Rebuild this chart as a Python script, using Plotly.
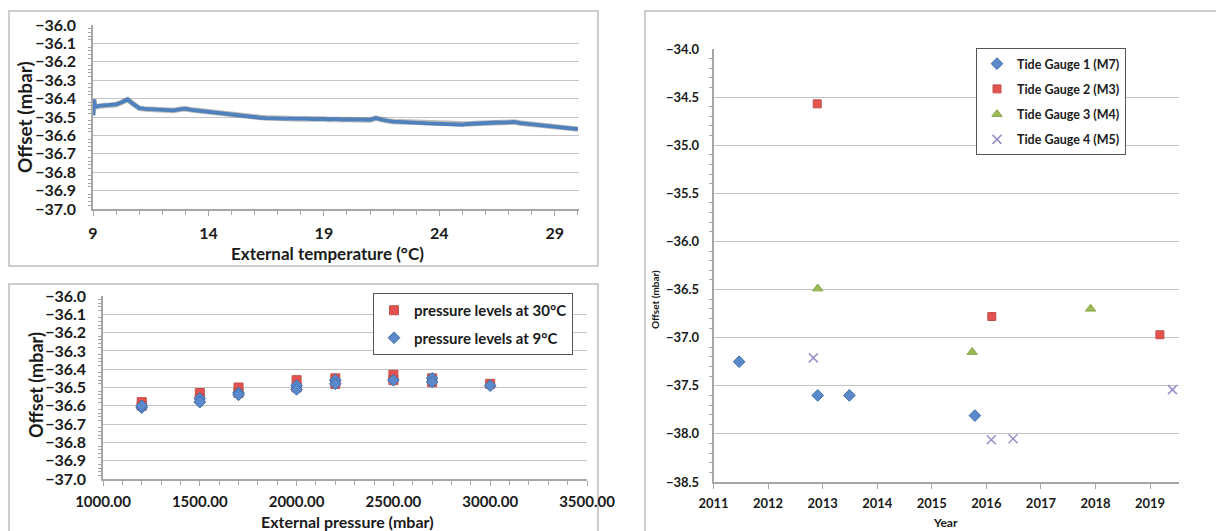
import plotly.graph_objects as go

# ---------------- DATA ----------------
# Panel A: offset vs external temperature
temp_c = [9.00, 9.02, 9.04, 9.06, 9.10, 9.25, 9.50, 9.75, 10.00, 10.25, 10.50, 10.75,
          11.00, 11.25, 11.50, 11.75, 12.00, 12.25, 12.50, 12.75, 13.00, 13.25, 13.50, 13.75,
          14.00, 14.25, 14.50, 14.75, 15.00, 15.25, 15.50, 15.75, 16.00, 16.25, 16.50, 16.75,
          17.00, 17.25, 17.50, 17.75, 18.00, 18.25, 18.50, 18.75, 19.00, 19.25, 19.50, 19.75,
          20.00, 20.25, 20.50, 20.75, 21.00, 21.25, 21.50, 21.75, 22.00, 22.25, 22.50, 22.75,
          23.00, 23.25, 23.50, 23.75, 24.00, 24.25, 24.50, 24.75, 25.00, 25.25, 25.50, 25.75,
          26.00, 26.25, 26.50, 26.75, 27.00, 27.25, 27.50, 27.75, 28.00, 28.25, 28.50, 28.75,
          29.00, 29.25, 29.50, 29.75, 30.00]
temp_offset = [-36.490, -36.470, -36.405, -36.440, -36.445, -36.440, -36.437, -36.436, -36.432, -36.420, -36.405, -36.430,
               -36.452, -36.456, -36.458, -36.457, -36.462, -36.460, -36.464, -36.458, -36.455, -36.461, -36.465, -36.468,
               -36.471, -36.474, -36.480, -36.483, -36.489, -36.491, -36.494, -36.499, -36.502, -36.504, -36.506, -36.505,
               -36.507, -36.509, -36.508, -36.511, -36.511, -36.509, -36.512, -36.510, -36.511, -36.513, -36.510, -36.514,
               -36.513, -36.512, -36.515, -36.514, -36.516, -36.506, -36.515, -36.521, -36.525, -36.526, -36.529, -36.530,
               -36.531, -36.533, -36.535, -36.536, -36.538, -36.540, -36.536, -36.541, -36.542, -36.538, -36.536, -36.534,
               -36.531, -36.532, -36.530, -36.531, -36.529, -36.527, -36.533, -36.536, -36.538, -36.541, -36.545, -36.548,
               -36.552, -36.556, -36.558, -36.561, -36.566]

# Panel B: offset vs external pressure
p30_pressure = [1200, 1200, 1500, 1500, 1700, 1700, 2000, 2000, 2200, 2200, 2500, 2500, 2700, 2700, 3000]
p30_offset = [-36.58, -36.60, -36.53, -36.56, -36.50, -36.53, -36.46, -36.50, -36.45, -36.48, -36.43, -36.46, -36.45, -36.47, -36.48]
p9_pressure = [1200, 1200, 1500, 1500, 1700, 1700, 2000, 2000, 2200, 2200, 2500, 2700, 2700, 3000]
p9_offset = [-36.61, -36.60, -36.56, -36.58, -36.53, -36.54, -36.49, -36.51, -36.46, -36.48, -36.46, -36.45, -36.47, -36.49]

# Panel C: offset per year and tide gauge
tg1_year = [2011.47, 2012.91, 2013.49, 2015.79]
tg1_offset = [-37.25, -37.60, -37.60, -37.81]
tg2_year = [2012.90, 2016.10, 2019.18]
tg2_offset = [-34.57, -36.78, -36.97]
tg3_year = [2012.91, 2015.74, 2017.91]
tg3_offset = [-36.49, -37.15, -36.70]
tg4_year = [2012.83, 2016.09, 2016.49, 2019.41]
tg4_offset = [-37.21, -38.06, -38.05, -37.54]

# ---------------- LAYOUT HELPERS ----------------
W, H = 1216, 531
def px(x):
    return x / W
def py(y):
    return 1 - y / H

FONT = "Lato"
GRID = "#C4C4C4"
AXIS = "#A6A6A6"
TXT = "#1A1A1A"

fig = go.Figure()

# Panel A line (shadow + line)
fig.add_trace(go.Scatter(x=temp_c, y=temp_offset, mode="lines", xaxis="x", yaxis="y",
                         line=dict(color="rgba(60,60,60,0.35)", width=5.5), showlegend=False, hoverinfo="skip"))
fig.add_trace(go.Scatter(x=temp_c, y=temp_offset, mode="lines", xaxis="x", yaxis="y",
                         line=dict(color="#4F81BD", width=3.8), showlegend=False))

# Panel B
fig.add_trace(go.Scatter(x=p30_pressure, y=p30_offset, mode="markers", xaxis="x2", yaxis="y2",
                         name="pressure levels at 30°C", legend="legend", legendgroup="a",
                         marker=dict(symbol="square", size=9, color="#E4524F",
                                     line=dict(color="#C0504D", width=1))))
fig.add_trace(go.Scatter(x=p9_pressure, y=p9_offset, mode="markers", xaxis="x2", yaxis="y2",
                         name="pressure levels at 9°C", legend="legend", legendgroup="b",
                         marker=dict(symbol="diamond", size=9, color="#5A8ACB",
                                     line=dict(color="#3E6DAA", width=1))))

# Panel C
fig.add_trace(go.Scatter(x=tg1_year, y=tg1_offset, mode="markers", xaxis="x3", yaxis="y3",
                         name="Tide Gauge 1 (M7)", legend="legend2", legendgroup="c1",
                         marker=dict(symbol="diamond", size=9, color="#5A8ACB",
                                     line=dict(color="#3E6DAA", width=1))))
fig.add_trace(go.Scatter(x=tg2_year, y=tg2_offset, mode="markers", xaxis="x3", yaxis="y3",
                         name="Tide Gauge 2 (M3)", legend="legend2", legendgroup="c2",
                         marker=dict(symbol="square", size=8, color="#E4524F",
                                     line=dict(color="#C0504D", width=1))))
fig.add_trace(go.Scatter(x=tg3_year, y=tg3_offset, mode="markers", xaxis="x3", yaxis="y3",
                         name="Tide Gauge 3 (M4)", legend="legend2", legendgroup="c3",
                         marker=dict(symbol="triangle-up", size=9, color="#9BBB59",
                                     line=dict(color="#86A544", width=1))))
fig.add_trace(go.Scatter(x=tg4_year, y=tg4_offset, mode="markers", xaxis="x3", yaxis="y3",
                         name="Tide Gauge 4 (M5)", legend="legend2", legendgroup="c4",
                         marker=dict(symbol="x-thin", size=9, color="#9C8EC8",
                                     line=dict(color="#9C8EC8", width=1.5))))

def yaxis_common(size):
    return dict(showgrid=True, gridcolor=GRID, gridwidth=1.3, zeroline=False,
                showline=True, linecolor=AXIS, linewidth=1.5, automargin=False,
                tickfont=dict(family=FONT, size=size, color=TXT, weight="bold"),
                ticks="", fixedrange=True)

def xaxis_common(size):
    return dict(showgrid=False, zeroline=False, showline=True, linecolor=AXIS, linewidth=1.5,
                automargin=False,
                tickfont=dict(family=FONT, size=size, color=TXT, weight="bold"),
                ticks="outside", ticklen=5, tickcolor=AXIS, tickwidth=1.2, fixedrange=True)

xa = xaxis_common(16)
xa.update(domain=[px(93), px(579)], anchor="y", range=[9, 30.05], tick0=9, dtick=5,
          minor=dict(ticks="outside", ticklen=4, dtick=1, tickcolor=AXIS, showgrid=False),
          ticklabelstandoff=4)
ya = yaxis_common(16)
ya.update(domain=[py(209), py(25)], anchor="x", range=[-37.0, -36.0], dtick=0.1, tickformat=".1f",
          minor=dict(ticks="outside", ticklen=3, dtick=0.02, tickcolor=AXIS, showgrid=False),
          ticklabelstandoff=12)

xb = xaxis_common(15)
xb.update(domain=[px(103), px(587)], anchor="y2", range=[1000, 3500], dtick=500, tickformat=".2f",
          minor=dict(ticks="outside", ticklen=4, dtick=100, tickcolor=AXIS, showgrid=False),
          ticklabelstandoff=3)
yb = yaxis_common(16)
yb.update(domain=[py(479), py(296)], anchor="x2", range=[-37.0, -36.0], dtick=0.1, tickformat=".1f",
          minor=dict(ticks="outside", ticklen=3, dtick=0.02, tickcolor=AXIS, showgrid=False),
          ticklabelstandoff=12)

xc = xaxis_common(13)
xc.update(domain=[px(713.5), px(1179)], anchor="y3", range=[2011, 2019.53], dtick=1, tick0=2011,
          tickformat="d", ticklabelstandoff=4)
yc = yaxis_common(13)
yc.update(domain=[py(482), py(49)], anchor="x3", range=[-38.5, -34.0], dtick=0.5, tickformat=".1f",
          minor=dict(ticks="outside", ticklen=3, dtick=0.1, tickcolor=AXIS, showgrid=False),
          ticklabelstandoff=10)

def box(x0, y0, x1, y1):
    return dict(type="rect", xref="paper", yref="paper", x0=px(x0), y0=py(y1), x1=px(x1), y1=py(y0),
                line=dict(color="#BDBDBD", width=1.5), fillcolor="rgba(0,0,0,0)", layer="below")

def title_ann(text, x, y, size, angle=0):
    return dict(text=text, x=px(x), y=py(y), xref="paper", yref="paper", showarrow=False,
                textangle=angle, xanchor="center", yanchor="middle",
                font=dict(family=FONT, size=size, color=TXT, weight="bold"))

fig.update_layout(
    width=W, height=H, margin=dict(l=0, r=0, t=0, b=0, pad=0, autoexpand=False),
    paper_bgcolor="white", plot_bgcolor="white",
    xaxis=xa, yaxis=ya, xaxis2=xb, yaxis2=yb, xaxis3=xc, yaxis3=yc,
    shapes=[box(9, 11, 598, 266), box(9, 284, 598, 545), box(645, 11, 1230, 545)],
    annotations=[
        title_ann("Offset (mbar)", 25, 117, 19, -90),
        title_ann("External temperature (°C)", 327, 253, 17),
        title_ann("Offset (mbar)", 36, 385, 18, -90),
        title_ann("External pressure (mbar)", 348, 521, 16),
        title_ann("Offset (mbar)", 655, 300, 10, -90),
        title_ann("Year", 945, 522, 12),
    ],
    legend=dict(x=px(373), y=py(293), xanchor="left", yanchor="top", bgcolor="white",
                bordercolor="#555555", borderwidth=1, tracegroupgap=5,
                font=dict(family=FONT, size=15, color=TXT, weight="bold"),
                itemwidth=30),
    legend2=dict(x=px(976), y=py(48), xanchor="left", yanchor="top", bgcolor="white",
                 bordercolor="#555555", borderwidth=1, tracegroupgap=6,
                 font=dict(family=FONT, size=12.5, color=TXT, weight="bold"),
                 itemwidth=30),
    showlegend=True,
)

fig.write_html("out.html", config={"displayModeBar": False},
               post_script="document.body.style.margin='0';document.body.style.padding='0';document.body.style.overflow='hidden';")
